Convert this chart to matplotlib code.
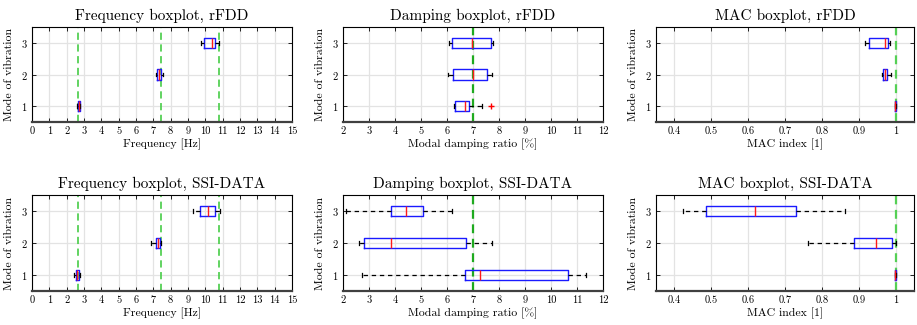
import matplotlib
matplotlib.use("Agg")
import matplotlib.pyplot as plt
from matplotlib.ticker import FuncFormatter

plt.rcParams['font.family'] = 'serif'
plt.rcParams['font.serif'] = ['cmr10', 'DejaVu Serif']
plt.rcParams['axes.formatter.use_mathtext'] = True
plt.rcParams['mathtext.fontset'] = 'cm'

modes = [1, 2, 3]
mode_ticks = [1, 2, 3]

# five-number summaries per mode: (whisker low, q1, median, q3, whisker high)
freq_rfdd = [(2.62, 2.63, 2.69, 2.75, 2.76), (7.14, 7.22, 7.35, 7.45, 7.58), (9.75, 9.95, 10.40, 10.58, 10.80)]
freq_ssi = [(2.45, 2.53, 2.62, 2.71, 2.75), (6.88, 7.15, 7.25, 7.40, 7.46), (9.30, 9.72, 10.15, 10.55, 10.82)]
damp_rfdd = [(6.26, 6.32, 6.69, 6.85, 7.33), (6.03, 6.24, 7.00, 7.55, 7.74), (6.08, 6.20, 6.96, 7.70, 7.77)]
damp_ssi = [(2.73, 6.71, 7.27, 10.65, 11.33), (2.63, 2.81, 3.86, 6.72, 7.74), (2.13, 3.86, 4.42, 5.08, 6.20)]
mac_rfdd = [(0.999, 0.9992, 0.9996, 1.0, 1.0), (0.962, 0.967, 0.972, 0.978, 0.987), (0.916, 0.928, 0.971, 0.980, 0.985)]
mac_ssi = [(0.9990, 0.9992, 0.9996, 1.0, 1.0), (0.763, 0.886, 0.948, 0.989, 1.0), (0.424, 0.487, 0.619, 0.730, 0.863)]

damp_rfdd_fliers = [[7.69], [], []]

freq_ref = [2.66, 7.46, 10.77]
damp_ref = [7.0, 7.0, 7.0]
mac_ref = [1.0, 1.0, 1.0]

freq_ticks = list(range(0, 16))
damp_ticks = list(range(2, 13))
mac_ticks = [0.4, 0.5, 0.6, 0.7, 0.8, 0.9, 1.0]

W, H = 917, 325
fig = plt.figure(figsize=(W / 100, H / 100), dpi=100)

cols = [(32, 292), (343, 603), (656, 914)]
rows = [(27, 122), (195, 291)]


def make_ax(r, c):
    (x0, x1), (y0, y1) = cols[c], rows[r]
    return fig.add_axes([x0 / W, 1 - y1 / H, (x1 - x0) / W, (y1 - y0) / H])


def draw(ax, summ, fliers, refs, ref_color, ref_lw, title, xlabel, xlim, xticks):
    stats = []
    for i, (lo, q1, med, q3, hi) in enumerate(summ):
        stats.append(dict(whislo=lo, q1=q1, med=med, q3=q3, whishi=hi,
                          fliers=(fliers[i] if fliers else [])))
    ax.grid(True, color='#e3e3e3', lw=0.9)
    ax.set_axisbelow(True)
    for v in refs:
        ax.axvline(v, color=ref_color, lw=ref_lw, ls=(0, (4, 2.5)), zorder=1.5)
    ax.bxp(stats, positions=modes, vert=False, widths=0.33, capwidths=0.12,
           boxprops=dict(color='#1a1aff', lw=1.0),
           medianprops=dict(color='#ff1a1a', lw=1.0),
           whiskerprops=dict(color='black', lw=0.9, ls=(0, (3.5, 3))),
           capprops=dict(color='black', lw=0.9),
           flierprops=dict(marker='+', markeredgecolor='red', markersize=5, lw=0),
           showfliers=True, manage_ticks=False)
    ax.set_ylim(0.5, 3.5)
    ax.set_yticks(mode_ticks)
    ax.set_xlim(*xlim)
    ax.set_xticks(xticks)
    ax.xaxis.set_major_formatter(FuncFormatter(lambda v, p: f"{v:g}"))
    ax.tick_params(direction='in', top=True, right=True, labelsize=7.5, length=3, width=0.6, pad=3)
    ax.set_title(title, fontsize=11, pad=5)
    ax.set_xlabel(xlabel, fontsize=8.5, labelpad=2)
    ax.set_ylabel('Mode of vibration', fontsize=8.5, labelpad=5)
    for s in ['top', 'right', 'left']:
        ax.spines[s].set_linewidth(0.8)
    ax.spines['bottom'].set_linewidth(1.6)
    ax.spines['bottom'].set_color('#404040')


light_green = '#55d055'
dark_green = '#1faa1f'

draw(make_ax(0, 0), freq_rfdd, None, freq_ref, light_green, 1.3,
     'Frequency boxplot, rFDD', 'Frequency [Hz]', (0, 15), freq_ticks)
draw(make_ax(0, 1), damp_rfdd, damp_rfdd_fliers, damp_ref[:1], dark_green, 1.6,
     'Damping boxplot, rFDD', 'Modal damping ratio [%]', (2, 12), damp_ticks)
draw(make_ax(0, 2), mac_rfdd, None, mac_ref[:1], light_green, 1.6,
     'MAC boxplot, rFDD', 'MAC index [1]', (0.35, 1.05), mac_ticks)
draw(make_ax(1, 0), freq_ssi, None, freq_ref, light_green, 1.3,
     'Frequency boxplot, SSI-DATA', 'Frequency [Hz]', (0, 15), freq_ticks)
draw(make_ax(1, 1), damp_ssi, None, damp_ref[:1], dark_green, 1.6,
     'Damping boxplot, SSI-DATA', 'Modal damping ratio [%]', (2, 12), damp_ticks)
draw(make_ax(1, 2), mac_ssi, None, mac_ref[:1], light_green, 1.6,
     'MAC boxplot, SSI-DATA', 'MAC index [1]', (0.35, 1.05), mac_ticks)

fig.savefig('out.png', dpi=100)
